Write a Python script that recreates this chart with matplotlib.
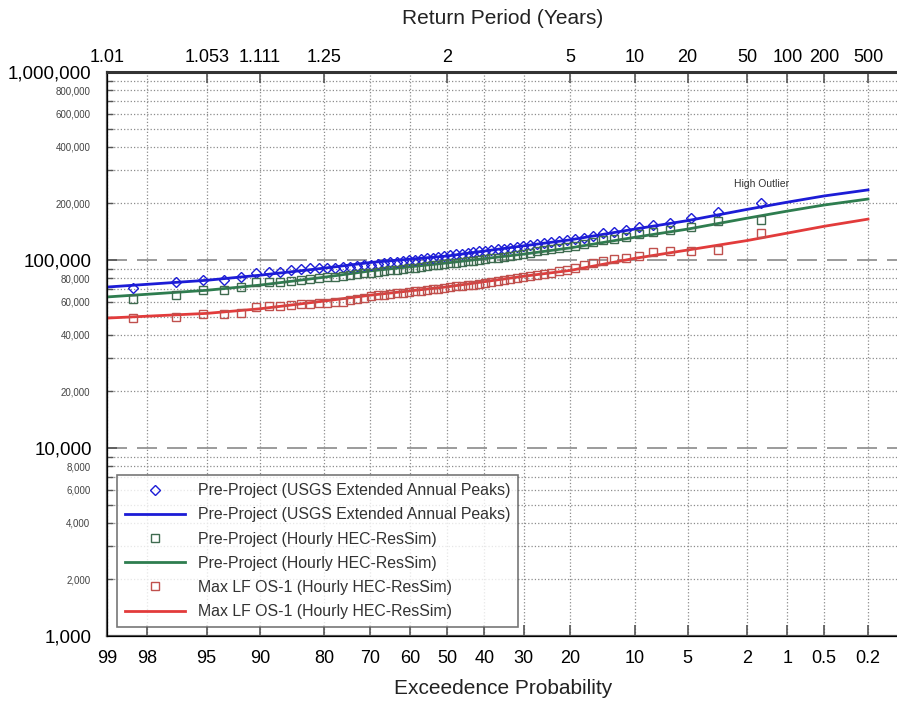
import numpy as np
import matplotlib
matplotlib.use("Agg")
import matplotlib.pyplot as plt
from matplotlib.ticker import FixedLocator, FixedFormatter, FuncFormatter
from statistics import NormalDist

plt.rcParams['font.family'] = ['Liberation Sans', 'DejaVu Sans']

# ---- axis ticks ----
exceed_ticks = [99, 98, 95, 90, 80, 70, 60, 50, 40, 30, 20, 10, 5, 2, 1, 0.5, 0.2]
exceed_labels = ['99', '98', '95', '90', '80', '70', '60', '50', '40', '30',
                 '20', '10', '5', '2', '1', '0.5', '0.2']
return_tick_prob = [99, 95, 90, 80, 50, 20, 10, 5, 2, 1, 0.5, 0.2]
return_labels = ['1.01', '1.053', '1.111', '1.25', '2', '5', '10', '20',
                 '50', '100', '200', '500']

# ---- fitted frequency curves (exceedance %, flow) ----
curve_prob = [99, 95, 90, 80, 70, 50, 30, 20, 10, 5, 2, 1, 0.5, 0.2]
usgs_curve = [71800, 78000, 83000, 90500, 97000, 105000, 119000, 128000,
              146000, 162000, 186000, 203000, 219000, 236000]
hourly_curve = [63600, 69000, 73500, 81000, 87500, 96500, 107500, 116000,
                132000, 146000, 167000, 182000, 196000, 211000]
maxlf_curve = [49100, 52000, 55000, 60500, 65000, 72000, 82000, 88000,
               102000, 113000, 127000, 139000, 151000, 165000]

# ---- annual peaks, sorted largest first (62 years) ----
usgs_peaks = [201000, 180000, 167000, 158000, 153000, 150000, 144500, 141500,
              138500, 134700, 131500, 129500, 127500, 126000, 124500, 123000,
              121500, 120000, 118500, 117500, 116000, 115000, 114000, 113000,
              112000, 111000, 110000, 109000, 108000, 107000, 106000, 105000,
              104000, 103000, 102000, 101000, 100200, 99400, 98600, 97800,
              97000, 96200, 95400, 94600, 93800, 93000, 92200, 91500,
              91000, 90800, 90600, 90400, 90000, 88500, 86300, 86000,
              85000, 81200, 78300, 78000, 76400, 71000]
hourly_peaks = [163000, 162000, 150000, 145000, 141000, 137000, 133000, 130000,
                127000, 124000, 121500, 119000, 117000, 115500, 114000, 112500,
                111000, 109500, 108000, 106500, 105000, 104000, 103000, 102000,
                101000, 100000, 99200, 98400, 97600, 96800, 96000, 95200,
                94400, 93600, 92800, 92000, 91200, 90400, 89600, 88800,
                88000, 87200, 86400, 85600, 84800, 84000, 83200, 82400,
                81600, 80800, 80000, 79200, 78400, 77500, 76600, 76400,
                76000, 71800, 69500, 69200, 65200, 62100]
maxlf_peaks = [139000, 113000, 112000, 111500, 110500, 105000, 103000, 101000,
               98500, 96000, 93500, 91000, 89000, 87000, 85500, 84500,
               83500, 82500, 81500, 80500, 79500, 78500, 77500, 76500,
               75500, 74500, 74000, 73500, 73000, 72500, 72000, 71000,
               70500, 70000, 69000, 68500, 68000, 67500, 67000, 66500,
               66000, 65500, 65000, 64000, 63000, 62000, 61000, 60000,
               59500, 59000, 58800, 58500, 58000, 57500, 57000, 56900,
               56200, 52300, 51600, 51600, 49700, 49100]

# Weibull plotting positions (%)
rank = np.arange(1, len(usgs_peaks) + 1)
plot_pos = 100.0 * rank / (len(usgs_peaks) + 1)

# ---- normal probability scale ----
_nd = NormalDist()
_ppf = np.vectorize(lambda v: _nd.inv_cdf(v), otypes=[float])
_cdf = np.vectorize(lambda v: _nd.cdf(v), otypes=[float])


def prob_fwd(p):
    p = np.clip(np.asarray(p, dtype=float), 1e-7, 100 - 1e-7)
    return _ppf(p / 100.0)


def prob_inv(z):
    return 100.0 * _cdf(np.asarray(z, dtype=float))


fig = plt.figure(figsize=(8.97, 7.01), dpi=100)
W, H = 897.0, 701.0
ax = fig.add_axes([107 / W, 1 - 636 / H, (899 - 107) / W, (636 - 72) / H])

ax.set_xscale('function', functions=(prob_fwd, prob_inv))
ax.set_yscale('log')
ax.set_xlim(99, 0.1)
ax.set_ylim(1000, 1000000)

blue, green, red = '#1c1cd6', '#2e7d4f', '#e23b3b'

ax.plot(plot_pos, usgs_peaks, linestyle='none', marker='D', markersize=5,
        markerfacecolor='none', markeredgecolor=blue, markeredgewidth=1.0,
        label='Pre-Project (USGS Extended Annual Peaks)', zorder=4)
ax.plot(curve_prob, usgs_curve, color=blue, lw=2,
        label='Pre-Project (USGS Extended Annual Peaks)', zorder=3)
ax.plot(plot_pos, hourly_peaks, linestyle='none', marker='s', markersize=6,
        markerfacecolor='none', markeredgecolor='#3f6b50', markeredgewidth=1.0,
        label='Pre-Project (Hourly HEC-ResSim)', zorder=4)
ax.plot(curve_prob, hourly_curve, color=green, lw=2,
        label='Pre-Project (Hourly HEC-ResSim)', zorder=3)
ax.plot(plot_pos, maxlf_peaks, linestyle='none', marker='s', markersize=6,
        markerfacecolor='none', markeredgecolor='#c0504d', markeredgewidth=1.0,
        label='Max LF OS-1 (Hourly HEC-ResSim)', zorder=4)
ax.plot(curve_prob, maxlf_curve, color=red, lw=2,
        label='Max LF OS-1 (Hourly HEC-ResSim)', zorder=3)

ax.annotate('High Outlier', xy=(plot_pos[0], usgs_peaks[0]), xytext=(0, 14),
            textcoords='offset points', ha='center', va='center',
            fontsize=7.5, color='#333333')

# x ticks / grid
ax.xaxis.set_major_locator(FixedLocator(exceed_ticks))
ax.xaxis.set_major_formatter(FixedFormatter(exceed_labels))
ax.xaxis.set_minor_locator(FixedLocator([]))
ax.tick_params(axis='x', which='major', direction='in', length=8, width=1.2,
               color='#555555', labelsize=13, pad=10, top=False)
ax.grid(True, axis='x', which='major', linestyle=':', color='#8c8c8c', lw=0.9)

# y ticks / grid
y_major = [1000, 10000, 100000, 1000000]
y_minor = [m * d for d in (1000, 10000, 100000) for m in range(2, 10)]
ax.yaxis.set_major_locator(FixedLocator(y_major))
ax.yaxis.set_major_formatter(FuncFormatter(lambda v, pos: f'{v:,.0f}'))
ax.yaxis.set_minor_locator(FixedLocator(y_minor))


def minor_fmt(v, pos):
    lead = int(round(v / 10 ** np.floor(np.log10(v))))
    return f'{v:,.0f}' if lead % 2 == 0 else ''


ax.yaxis.set_minor_formatter(FuncFormatter(minor_fmt))
ax.tick_params(axis='y', which='major', direction='in', length=7, width=1.2,
               color='#555555', labelsize=13.5, pad=11)
ax.tick_params(axis='y', which='minor', direction='in', length=4, width=1.0,
               color='#555555', labelsize=7, pad=12, labelcolor='#444444')
ax.grid(True, axis='y', which='minor', linestyle=':', color='#8c8c8c', lw=0.9)
ax.grid(True, axis='y', which='major', linestyle=(0, (12, 6)), color='#8a8a8a', lw=1.2)

for side in ('left', 'bottom'):
    ax.spines[side].set_color('#555555')
    ax.spines[side].set_linewidth(1.6)
ax.spines['right'].set_visible(False)

ax.set_xlabel('Exceedence Probability', fontsize=15, color='#222222', labelpad=9)

# top axis: return period
top = ax.twiny()
top.set_xscale('function', functions=(prob_fwd, prob_inv))
top.set_xlim(ax.get_xlim())
top.xaxis.set_major_locator(FixedLocator(return_tick_prob))
top.xaxis.set_major_formatter(FixedFormatter(return_labels))
top.xaxis.set_minor_locator(FixedLocator([]))
top.tick_params(axis='x', which='major', direction='in', length=8, width=1.2,
                color='#555555', labelsize=13, pad=4)
top.spines['top'].set_color('#333333')
top.spines['top'].set_linewidth(2.2)
top.spines['right'].set_visible(False)
top.set_xlabel('Return Period (Years)', fontsize=15, color='#222222', labelpad=18)

leg = ax.legend(loc='lower left', bbox_to_anchor=(0.0126, 0.016), borderaxespad=0,
                fontsize=11.4, frameon=True, fancybox=False, handlelength=3.8,
                handletextpad=0.8, labelspacing=0.58, borderpad=0.5)
leg.get_frame().set_edgecolor('#555555')
leg.get_frame().set_linewidth(1.2)
for t in leg.get_texts():
    t.set_color('#333333')

fig.savefig('out.png', dpi=100)
